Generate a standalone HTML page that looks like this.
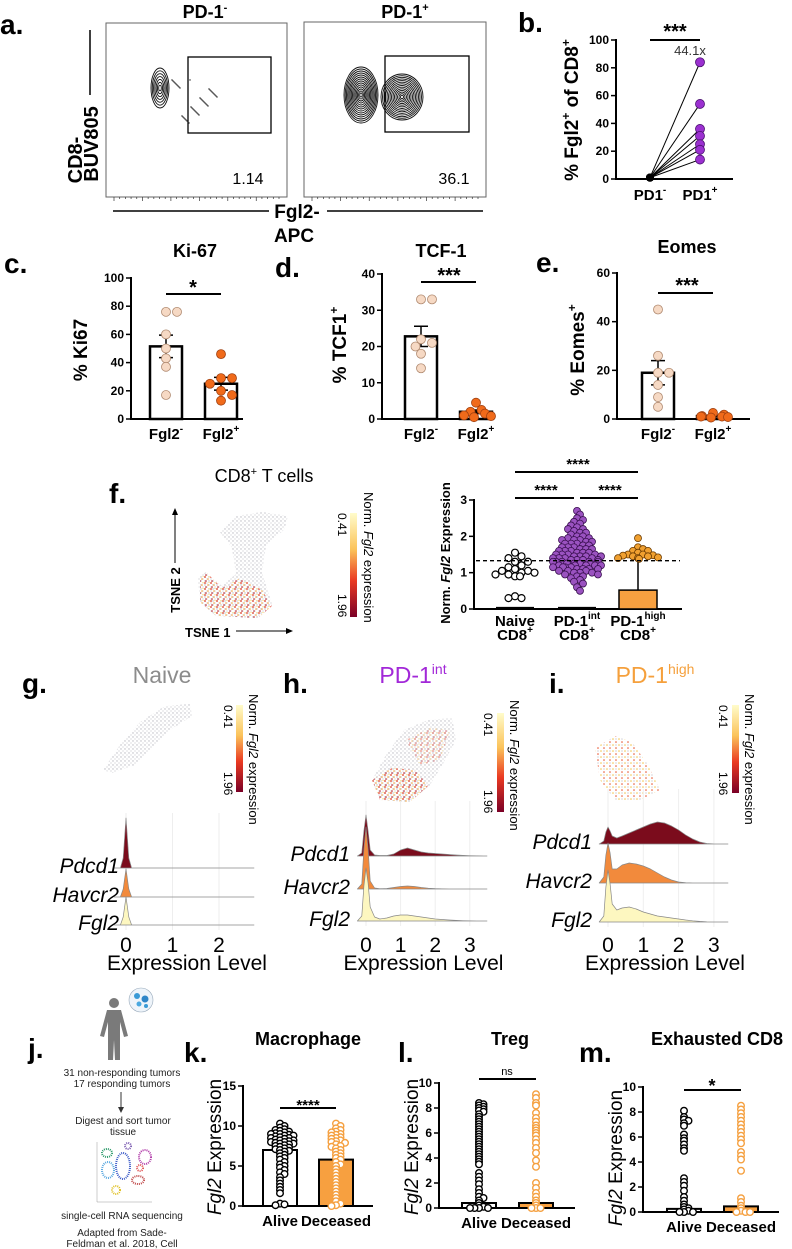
<!DOCTYPE html>
<html><head><meta charset="utf-8"><style>
html,body{margin:0;padding:0;background:#fff;}
svg{display:block;font-family:"Liberation Sans",Arial,sans-serif;}
.pl{font-size:28px;font-weight:bold;}
.tk{font-size:12px;font-weight:bold;text-anchor:end;}
.xl{font-size:15px;font-weight:bold;text-anchor:middle;}
.ti{font-size:18px;font-weight:bold;text-anchor:middle;}
.yt{font-size:19px;font-weight:bold;text-anchor:middle;}
.ax{stroke:#000;stroke-width:2;fill:none;}
.rl{font-size:21px;font-style:italic;text-anchor:end;}
.el{font-size:21px;text-anchor:middle;}
.sm{font-size:10px;text-anchor:middle;fill:#222;}
</style></head><body>
<svg id="fig" width="792" height="1249" viewBox="0 0 792 1249" xmlns="http://www.w3.org/2000/svg">
<defs>
<linearGradient id="cbar" x1="0" y1="0" x2="0" y2="1">
<stop offset="0" stop-color="#fffccb"/><stop offset="0.35" stop-color="#fbc35a"/><stop offset="0.65" stop-color="#ea3a22"/><stop offset="1" stop-color="#7a0026"/>
</linearGradient>
<pattern id="gdots" width="4" height="4" patternUnits="userSpaceOnUse"><circle cx="1" cy="1" r="0.7" fill="#b8b8c0"/><circle cx="3" cy="3" r="0.6" fill="#c8c8cc"/></pattern>
<pattern id="rdots" width="6" height="6" patternUnits="userSpaceOnUse"><circle cx="1" cy="1" r="0.9" fill="#e03a22"/><circle cx="4" cy="3" r="0.8" fill="#f5a13a"/><circle cx="2" cy="5" r="0.8" fill="#b4141e"/><circle cx="5" cy="0.5" r="0.6" fill="#f6d66a"/></pattern>
<pattern id="ydots" width="6" height="6" patternUnits="userSpaceOnUse"><circle cx="1" cy="1" r="0.8" fill="#f3c44a"/><circle cx="4" cy="4" r="0.8" fill="#e8502a"/><circle cx="4" cy="1" r="0.6" fill="#b8b8c0"/></pattern>
</defs>

<g>
<text class="pl" x="0" y="34">a.</text>
<text x="205" y="18" font-size="18" font-weight="bold" text-anchor="middle">PD-1<tspan font-size="11" dy="-7">-</tspan></text>
<text x="405" y="18" font-size="18" font-weight="bold" text-anchor="middle">PD-1<tspan font-size="11" dy="-7">+</tspan></text>
<rect x="106" y="23" width="181" height="174" fill="none" stroke="#666" stroke-width="1"/>
<rect x="304" y="22" width="182" height="175" fill="none" stroke="#666" stroke-width="1"/>
<rect x="188" y="57" width="83" height="76" fill="none" stroke="#000" stroke-width="1.3"/>
<rect x="385" y="56" width="84" height="76" fill="none" stroke="#000" stroke-width="1.3"/>
<text x="248" y="184" font-size="16" text-anchor="middle">1.14</text>
<text x="454" y="184" font-size="16" text-anchor="middle">36.1</text>
<g id="contours"></g>
<line x1="90" y1="30" x2="90" y2="95" stroke="#000" stroke-width="1.5"/>
<text transform="translate(82,160) rotate(-90)" font-size="20" font-weight="bold" text-anchor="middle">CD8-</text>
<text transform="translate(98,144) rotate(-90)" font-size="20" font-weight="bold" text-anchor="middle">BUV805</text>
<line x1="113" y1="211" x2="269" y2="211" stroke="#000" stroke-width="1.5"/>
<line x1="327" y1="211" x2="483" y2="211" stroke="#000" stroke-width="1.5"/>
<text x="297" y="218" font-size="19" font-weight="bold" text-anchor="middle">Fgl2-</text>
<text x="294" y="242" font-size="19" font-weight="bold" text-anchor="middle">APC</text>
</g>

<g>
<text class="pl" x="518" y="32">b.</text>
<g id="chartB"></g>
<text transform="translate(578,110) rotate(-90)" class="yt" font-size="20">% Fgl2<tspan font-size="12" dy="-8">+</tspan><tspan dy="8"> of CD8</tspan><tspan font-size="12" dy="-8">+</tspan></text>
<text x="675" y="38" font-size="20" font-weight="bold" text-anchor="middle">***</text>
<text x="690" y="55" font-size="13" fill="#333" text-anchor="middle">44.1x</text>
</g>

<text class="pl" x="4" y="273">c.</text>
<text class="ti" x="195" y="257">Ki-67</text>
<g id="chartC"></g>
<text transform="translate(87,350) rotate(-90)" class="yt">% Ki67</text>
<text x="193" y="294" font-size="20" font-weight="bold" text-anchor="middle">*</text>

<text class="pl" x="275" y="277">d.</text>
<text class="ti" x="441" y="257">TCF-1</text>
<g id="chartD"></g>
<text transform="translate(346,345) rotate(-90)" class="yt">% TCF1<tspan font-size="12" dy="-8">+</tspan></text>
<text x="449" y="282" font-size="20" font-weight="bold" text-anchor="middle">***</text>

<text class="pl" x="536" y="272">e.</text>
<text class="ti" x="687" y="253">Eomes</text>
<g id="chartE"></g>
<text transform="translate(584,350) rotate(-90)" class="yt">% Eomes<tspan font-size="12" dy="-8">+</tspan></text>
<text x="687" y="292" font-size="20" font-weight="bold" text-anchor="middle">***</text>

<text class="pl" x="109" y="503">f.</text>
<text x="264" y="482" font-size="18" text-anchor="middle">CD8<tspan font-size="11" dy="-7">+</tspan><tspan dy="7"> T cells</tspan></text>
<g>
<path d="M220,532 L236,516 L262,512 L288,516 L284,530 L266,545 L262,572 L272,604 L258,618 L216,616 L200,602 L198,578 L206,572 L222,586 L236,574 L232,548 Z" fill="url(#gdots)"/>
<path d="M200,580 L206,572 L222,588 L240,578 L262,590 L272,606 L258,618 L216,616 L200,602 Z" fill="url(#rdots)"/>
</g>
<line x1="175" y1="563" x2="175" y2="512" stroke="#000" stroke-width="1"/>
<path d="M172,515 L175,508 L178,515 Z" fill="#000"/>
<text transform="translate(180,590) rotate(-90)" font-size="13" font-weight="bold" text-anchor="middle">TSNE 2</text>
<text x="185" y="637" font-size="13" font-weight="bold">TSNE 1</text>
<line x1="236" y1="631" x2="288" y2="631" stroke="#000" stroke-width="1"/>
<path d="M286,628 L293,631 L286,634 Z" fill="#000"/>
<rect x="350" y="513" width="7" height="104" fill="url(#cbar)"/>
<text transform="translate(338,513) rotate(90)" font-size="12">0.41</text>
<text transform="translate(338,594) rotate(90)" font-size="12">1.96</text>
<text transform="translate(364,492) rotate(90)" font-size="13">Norm. <tspan font-style="italic">Fgl2</tspan> expression</text>
<g id="chartF"></g>
<text transform="translate(450,553) rotate(-90)" font-size="13" font-weight="bold" text-anchor="middle">Norm. <tspan font-style="italic">Fgl2</tspan> Expression</text>

<text class="pl" x="22" y="693">g.</text>
<text x="162" y="683" font-size="23" fill="#8c8c8c" text-anchor="middle">Naive</text>
<text class="pl" x="283" y="693">h.</text>
<text x="413" y="683" font-size="23" fill="#a228d8" text-anchor="middle">PD-1<tspan font-size="14" dy="-9">int</tspan></text>
<text class="pl" x="549" y="693">i.</text>
<text x="655" y="683" font-size="23" fill="#f5a03c" text-anchor="middle">PD-1<tspan font-size="14" dy="-9">high</tspan></text>

<path d="M103,770 L120,745 L140,722 L165,706 L190,704 L192,716 L170,730 L150,750 L135,765 L112,773 Z" fill="url(#gdots)"/>
<path d="M372,780 L386,755 L404,730 L428,720 L452,718 L456,740 L444,762 L430,785 L410,802 L380,800 Z" fill="url(#gdots)"/>
<path d="M372,780 L392,768 L416,770 L428,786 L410,802 L380,800 Z" fill="url(#rdots)"/>
<path d="M406,740 L430,728 L450,730 L440,760 L420,765 Z" fill="url(#rdots)" opacity="0.6"/>
<path d="M595,748 L615,736 L632,742 L648,765 L660,790 L640,800 L615,800 L600,780 Z" fill="url(#ydots)"/>

<rect x="236" y="705" width="7" height="87" fill="url(#cbar)"/>
<text transform="translate(224,705) rotate(90)" font-size="12">0.41</text>
<text transform="translate(224,772) rotate(90)" font-size="12">1.96</text>
<text transform="translate(249,694) rotate(90)" font-size="13">Norm. <tspan font-style="italic">Fgl2</tspan> expression</text>
<rect x="497" y="713" width="7" height="99" fill="url(#cbar)"/>
<text transform="translate(484,713) rotate(90)" font-size="12">0.41</text>
<text transform="translate(484,790) rotate(90)" font-size="12">1.96</text>
<text transform="translate(510,700) rotate(90)" font-size="13">Norm. <tspan font-style="italic">Fgl2</tspan> expression</text>
<rect x="732" y="705" width="7" height="88" fill="url(#cbar)"/>
<text transform="translate(719,705) rotate(90)" font-size="12">0.41</text>
<text transform="translate(719,772) rotate(90)" font-size="12">1.96</text>
<text transform="translate(745,694) rotate(90)" font-size="13">Norm. <tspan font-style="italic">Fgl2</tspan> expression</text>
<g id="ridges"></g>

<g>
<text class="pl" x="28" y="1058">j.</text>
<g fill="#7a7a7a">
<circle cx="114" cy="1003" r="5"/>
<path d="M107,1010 L121,1010 L128,1036 L124,1037 L120,1022 L120,1060 L115,1060 L114,1040 L113,1060 L108,1060 L108,1022 L104,1037 L100,1036 Z"/>
</g>
<circle cx="141" cy="1000" r="12" fill="#eef4fa" stroke="#9ab" stroke-width="0.6"/>
<circle cx="137" cy="996" r="3" fill="#3a9ad6"/><circle cx="145" cy="999" r="3.5" fill="#2f86c8"/><circle cx="139" cy="1004" r="2.5" fill="#4aa8e0"/><circle cx="146" cy="1006" r="2" fill="#3a9ad6"/>
<text class="sm" x="122" y="1076">31 non-responding tumors</text>
<text class="sm" x="122" y="1087">17 responding tumors</text>
<line x1="121" y1="1092" x2="121" y2="1108" stroke="#333"/>
<path d="M118,1107 L121,1113 L124,1107 Z" fill="#333"/>
<text class="sm" x="123" y="1124">Digest and sort tumor</text>
<text class="sm" x="123" y="1135">tissue</text>
<g>
<line x1="97" y1="1142" x2="97" y2="1202" stroke="#999" stroke-width="0.5"/><line x1="97" y1="1202" x2="152" y2="1202" stroke="#999" stroke-width="0.5"/>
<ellipse cx="107" cy="1153" rx="5" ry="4" fill="none" stroke="#2c9a6a" stroke-width="2" stroke-dasharray="1 1"/>
<ellipse cx="108" cy="1170" rx="6" ry="8" fill="none" stroke="#5aa8e0" stroke-width="2" stroke-dasharray="1 1"/>
<ellipse cx="123" cy="1166" rx="7" ry="13" fill="none" stroke="#3a5ac8" stroke-width="2" stroke-dasharray="1 1"/>
<ellipse cx="145" cy="1157" rx="6" ry="7" fill="none" stroke="#b03aa8" stroke-width="2" stroke-dasharray="1 1"/>
<ellipse cx="138" cy="1180" rx="6" ry="4" fill="none" stroke="#c04a4a" stroke-width="2" stroke-dasharray="1 1"/>
<ellipse cx="116" cy="1190" rx="4" ry="4" fill="none" stroke="#e0c020" stroke-width="2" stroke-dasharray="1 1"/>
<ellipse cx="128" cy="1146" rx="3" ry="3" fill="none" stroke="#7a5ab0" stroke-width="2" stroke-dasharray="1 1"/>
<ellipse cx="140" cy="1168" rx="3" ry="3" fill="none" stroke="#e05050" stroke-width="2" stroke-dasharray="1 1"/>
</g>
<text class="sm" x="122" y="1219">single-cell RNA sequencing</text>
<text class="sm" x="122" y="1236">Adapted from Sade-</text>
<text class="sm" x="122" y="1247">Feldman et al. 2018, Cell</text>
</g>

<text class="pl" x="184" y="1062">k.</text>
<text class="ti" x="308" y="1045" font-size="20">Macrophage</text>
<g id="chartK"></g>
<text transform="translate(221,1147) rotate(-90)" font-size="19" text-anchor="middle"><tspan font-style="italic">Fgl2</tspan> Expression</text>
<text x="308" y="1110" font-size="15" font-weight="bold" text-anchor="middle">****</text>

<text class="pl" x="398" y="1062">l.</text>
<text class="ti" x="510" y="1045" font-size="20">Treg</text>
<g id="chartL"></g>
<text transform="translate(418,1147) rotate(-90)" font-size="19" text-anchor="middle"><tspan font-style="italic">Fgl2</tspan> Expression</text>
<text x="507" y="1075" font-size="11" text-anchor="middle">ns</text>

<text class="pl" x="579" y="1062">m.</text>
<text class="ti" x="717" y="1045" font-size="20">Exhausted CD8</text>
<g id="chartM"></g>
<text transform="translate(622,1158) rotate(-90)" font-size="19" text-anchor="middle"><tspan font-style="italic">Fgl2</tspan> Expression</text>
<text x="712" y="1092" font-size="18" font-weight="bold" text-anchor="middle">*</text>
</svg>

<script>
const bCats = ["PD1-", "PD1+"];
const bPd1Neg = [1, 1, 1, 1, 1, 1, 1];
const bPd1Pos = [84, 54, 36, 31, 25, 21, 14];
const bTicks = [0, 20, 40, 60, 80, 100];

const cCats = ["Fgl2-", "Fgl2+"];
const cNeg = [76, 76, 60, 50, 43, 37, 17];
const cPos = [46, 29, 29, 25, 20, 17, 13];
const cMeans = [51.5, 25];
const cSems = [8, 4.5];
const cTicks = [0, 20, 40, 60, 80, 100];

const dNeg = [33, 33, 22, 21, 20, 18, 14];
const dPos = [4.5, 2.5, 2, 1.5, 1, 0.5, 0.8];
const dMeans = [22.8, 2];
const dSems = [2.8, 0.5];
const dTicks = [0, 10, 20, 30, 40];

const eNeg = [45, 26, 19, 19, 14, 9, 5];
const ePos = [2.5, 1.8, 1.2, 1, 0.8, 0.6, 1];
const eMeans = [19, 1.2];
const eSems = [5, 0.3];
const eTicks = [0, 20, 40, 60];

const fCats = ["Naive", "PD-1int", "PD-1high"];
const fNaive = [1.55, 1.45, 1.4, 1.3, 1.3, 1.2, 1.15, 1.1, 1.05, 1.05, 1.0, 1.0, 0.95, 0.95, 0.9, 0.9, 0.35, 0.3, 0.3];
const fInt = [2.7,2.6,2.5,2.45,2.4,2.35,2.3,2.25,2.2,2.2,2.15,2.1,2.1,2.05,2.0,2.0,1.95,1.95,1.9,1.9,1.9,1.85,1.85,1.8,1.8,1.8,1.75,1.75,1.7,1.7,1.7,1.65,1.65,1.65,1.6,1.6,1.6,1.55,1.55,1.55,1.5,1.5,1.5,1.5,1.45,1.45,1.45,1.45,1.4,1.4,1.4,1.4,1.35,1.35,1.35,1.35,1.3,1.3,1.3,1.3,1.3,1.25,1.25,1.25,1.25,1.25,1.2,1.2,1.2,1.2,1.2,1.15,1.15,1.15,1.15,1.1,1.1,1.1,1.1,1.05,1.05,1.05,1.0,1.0,1.0,0.95,0.95,0.9,0.9,0.85,0.8,0.75,0.7,0.6,0.5];
const fHigh = [1.95, 1.7, 1.65, 1.6, 1.6, 1.55, 1.5, 1.5, 1.48, 1.47, 1.45, 1.45, 1.42, 1.4, 1.4, 1.38];
const fBars = [0.03, 0.03, 0.52];
const fHighWhisker = 1.33;
const fThreshold = 1.33;
const fTicks = [0, 1, 2, 3];

const ridgeGrid = [-0.25,-0.12,-0.06,0,0.06,0.12,0.25,0.4,0.6,0.8,1.0,1.2,1.4,1.6,1.8,2.0,2.2,2.4,2.6,2.8,3.0,3.2,3.4];
const genes = ["Pdcd1", "Havcr2", "Fgl2"];
const gPdcd1 = [0,0,10,50,10,0,0,0,0,0,0,0,0,0,0,0,0,0,0,0,0,0,0];
const gHavcr2 = [0,0,8,28,8,0,0,0,0,0,0,0,0,0,0,0,0,0,0,0,0,0,0];
const gFgl2 = [0,0,8,28,8,0,0,0,0,0,0,0,0,0,0,0,0,0,0,0,0,0,0];
const hPdcd1 = [0,3,25,41,25,6,1,0.5,0.5,2,6,8,6,4,3,2.5,2,1.5,1,0.6,0.3,0.1,0];
const hHavcr2 = [0,5,40,62,40,8,1,0.3,0.5,1.5,2.5,3,2.5,1.5,0.8,0.4,0.2,0,0,0,0,0,0];
const hFgl2 = [0,5,35,53,38,14,4,2,3,5,6,6,5,4,3,2,1.5,1,0.6,0.3,0.1,0,0];
const iPdcd1 = [0,3,12,17,13,8,6,8,11,14,17,20,22,21,18,14,9,5,2,0.5,0,0,0];
const iHavcr2 = [0,6,28,40,30,14,14,18,20,19,17,14,10,6,3,1,0.3,0,0,0,0,0,0];
const iFgl2 = [0,6,35,52,38,18,12,14,15,13,10,8,6,5,4,3,2,1.2,0.6,0.2,0,0,0];
const gTicks = [0, 1, 2];
const hTicks = [0, 1, 2, 3];

const kCats = ["Alive", "Deceased"];
const kAlive = [10.3,10,9.8,9.6,9.5,9.4,9.3,9.2,9.1,9,9,8.9,8.8,8.8,8.7,8.6,8.5,8.5,8.4,8.3,8.2,8.2,8.1,8,8,7.9,7.8,7.8,7.7,7.6,7.5,7.4,7.3,7.2,7.1,7,6.9,6.8,6.6,6.4,6.2,6,5.8,5.5,5.2,5,4.8,4.5,4.2,4,3.6,3.2,2.8,2.4,2,1.6,0.3,0.2,0.1];
const kDeceased = [10.3,10,9.7,9.5,9.3,9.2,9,8.9,8.8,8.6,8.5,8.4,8.2,8.1,8,7.9,7.7,7.5,7.4,7.2,7,6.8,6.6,6.4,6.2,6,5.8,5.5,5.2,5,4.6,4.2,3.8,3.4,3,2.6,2.2,1.8,1.4,1,0.6,0.3,0.1,0];
const kBars = [7.0, 5.8];
const kTicks = [0, 5, 10, 15];

const lAlive = [8.4,8.3,8.2,8.1,8.0,7.9,7.8,7.7,7.5,7.3,7.1,6.9,6.7,6.5,6.3,6.1,5.9,5.7,5.5,5.3,5.1,4.9,4.7,4.5,4.3,4.1,3.9,3.7,3.5,2.8,2.5,2.2,1.9,1.5,1.2,0.9,0.8,0.6,0.4,0.2,0.1,0,0,0,0];
const lDeceased = [9.1,8.8,8.4,8.2,7.6,7.2,6.9,6.6,6.4,6.2,6,5.8,5.5,5.2,4.8,4.4,3.8,3.3,2.0,1.6,1.2,0.9,0.6,0.4,0.2,0,0,0];
const lBars = [0.4, 0.4];
const lTicks = [0, 2, 4, 6, 8, 10];

const mAlive = [8.1,7.6,7.4,7.3,7.1,6.9,6.2,5.9,5.7,5.4,5.1,4.9,2.7,2.4,2.1,1.7,1.2,0.9,0.6,0.4,0.3,0.2,0.1,0,0,0];
const mDeceased = [8.5,8.2,7.9,7.6,7.3,7.0,6.7,6.4,6.1,5.8,5.5,4.8,4.5,4.2,3.3,1.1,0.8,0.5,0.3,0.1,0,0,0];
const mBars = [0.25, 0.45];
const mTicks = [0, 2, 4, 6, 8, 10];

const NS = "http://www.w3.org/2000/svg";
function mk(parent, tag, attrs, txt) {
  const el = document.createElementNS(NS, tag);
  for (const k in attrs) el.setAttribute(k, attrs[k]);
  if (txt !== undefined) el.textContent = txt;
  parent.appendChild(el);
  return el;
}
function lin(d0, d1, r0, r1) { return v => r0 + (v - d0) / (d1 - d0) * (r1 - r0); }
function swarm(vals, ys, cx, minD, step, maxOff) {
  const placed = [];
  const sorted = vals.slice().sort((a, b) => b - a);
  sorted.forEach(v => {
    const y = ys(v);
    let k = 0, x = cx, found = false;
    const kMax = 2 * Math.floor(maxOff / step);
    for (k = 0; k <= kMax; k++) {
      const off = (k === 0 ? 0 : Math.ceil(k / 2) * step * (k % 2 ? 1 : -1));
      x = cx + off;
      if (!placed.some(p => Math.hypot(p[0] - x, p[1] - y) < minD)) { found = true; break; }
    }
    if (!found) x = cx + ((placed.length % 2) ? 1 : -1) * ((placed.length * 3) % maxOff);
    placed.push([x, y]);
  });
  return placed;
}
function axes(g, x0, yTop, yBot, xEnd, ticks, ys, tickFont, name) {
  const ya = mk(g, "line", {x1: x0, y1: yTop - 1, x2: x0, y2: yBot, class: "ax"});
  
  
  const xa = mk(g, "line", {x1: x0 - 1, y1: yBot, x2: xEnd, y2: yBot, class: "ax"});
  
  
  ticks.forEach(t => {
    const tl = mk(g, "line", {x1: x0 - 5, y1: ys(t), x2: x0, y2: ys(t), stroke: "#000", "stroke-width": 1.5});
    
    
    const tx = mk(g, "text", {x: x0 - 7, y: ys(t) + 4, class: "tk", "font-size": tickFont}, String(t));
    
    
  });
}
function xlab(g, x, y, main, sup, name, size) {
  const t = mk(g, "text", {x: x, y: y, class: "xl", "font-size": size || 15});
  
  
  t.appendChild(document.createTextNode(main));
  if (sup) { mk(t, "tspan", {"font-size": 10, dy: -7}, sup); }
}
function sigLine(g, x1, x2, y, name) {
  const l = mk(g, "line", {x1: x1, y1: y, x2: x2, y2: y, stroke: "#000", "stroke-width": 2});
  
  
}

(function () {
  const g = document.getElementById("chartB");
  const ys = lin(0, 100, 179, 40);
  const xs = [650, 700];
  axes(g, 616, 40, 179, 733, bTicks, ys, 12, "chart-b");
  bPd1Pos.forEach((v, i) => {
    const l = mk(g, "line", {x1: xs[0], y1: ys(bPd1Neg[i]), x2: xs[1], y2: ys(v), stroke: "#000", "stroke-width": 1});
    
    
  });
  bPd1Neg.forEach(v => {
    const c = mk(g, "circle", {cx: xs[0], cy: ys(v), r: 4, fill: "#000"});
    
    
  });
  bPd1Pos.forEach(v => {
    const c = mk(g, "circle", {cx: xs[1], cy: ys(v), r: 4.5, fill: "#9b30d0", stroke: "#4a1070", "stroke-width": 0.8});
    
    
  });
  sigLine(g, xs[0], xs[1], 40, "significance-line-b");
  xlab(g, xs[0], 200, "PD1", "-", "x-label-pd1-neg", 16);
  xlab(g, xs[1], 200, "PD1", "+", "x-label-pd1-pos", 16);
})();

function barChart(id, x0, yTop, yBot, xEnd, dMax, ticks, xs, negVals, posVals, means, sems, sigY, name) {
  const g = document.getElementById(id);
  const ys = lin(0, dMax, yBot, yTop);
  axes(g, x0, yTop, yBot, xEnd, ticks, ys, 12, name);
  [negVals, posVals].forEach((vals, gi) => {
    const b = mk(g, "rect", {x: xs[gi] - 16, y: ys(means[gi]), width: 32, height: yBot - ys(means[gi]), fill: "#fff", stroke: "#000", "stroke-width": 2.5});
    
    
    const e = mk(g, "path", {d: `M${xs[gi]},${ys(means[gi] - sems[gi])} V${ys(means[gi] + sems[gi])} M${xs[gi] - 7},${ys(means[gi] + sems[gi])} h14 M${xs[gi] - 7},${ys(means[gi] - sems[gi])} h14`, stroke: "#000", "stroke-width": 1.5, fill: "none"});
    
    
    const pts = swarm(vals, ys, xs[gi], 8, 5.5, 16);
    pts.forEach(p => {
      const c = mk(g, "circle", {cx: p[0], cy: p[1], r: 4.5, fill: gi ? "#f06a1a" : "#f6d9c4", stroke: gi ? "#a04010" : "#b08a70", "stroke-width": 0.8});
      
      
    });
    xlab(g, xs[gi], yBot + 20, "Fgl2", gi ? "+" : "-", name + '-x-label');
  });
  sigLine(g, xs[0], xs[1], sigY, name + "-significance-line");
}
barChart("chartC", 131, 278, 419, 243, 100, cTicks, [166, 221], cNeg, cPos, cMeans, cSems, 294, "chart-c");
barChart("chartD", 382, 274, 419, 494, 40, dTicks, [421, 476], dNeg, dPos, dMeans, dSems, 282, "chart-d");
barChart("chartE", 617, 273, 419, 750, 60, eTicks, [658, 713], eNeg, ePos, eMeans, eSems, 293, "chart-e");

(function () {
  const g = document.getElementById("chartF");
  const ys = lin(0, 3, 609, 500);
  const xs = [515, 577, 638];
  axes(g, 474, 500, 609, 682, fTicks, ys, 13, "chart-f");
  const hb = mk(g, "rect", {x: xs[2] - 19, y: ys(fBars[2]), width: 38, height: 609 - ys(fBars[2]), fill: "#f7a040", stroke: "#000", "stroke-width": 1.5});
  
  
  const wh = mk(g, "line", {x1: xs[2], y1: ys(fBars[2]), x2: xs[2], y2: ys(fHighWhisker), stroke: "#000", "stroke-width": 1.5});
  
  
  [0, 1].forEach(i => {
    const b = mk(g, "line", {x1: xs[i] - 19, y1: ys(fBars[i]), x2: xs[i] + 19, y2: ys(fBars[i]), stroke: "#000", "stroke-width": 2});
    
    
  });
  swarm(fNaive, ys, xs[0], 6.5, 6.5, 20).forEach(p => {
    const c = mk(g, "circle", {cx: p[0], cy: p[1], r: 3.5, fill: "#fff", stroke: "#000", "stroke-width": 1.2});
    
    
  });
  swarm(fInt, ys, xs[1], 4, 3, 26).forEach(p => {
    const c = mk(g, "circle", {cx: p[0], cy: p[1], r: 3.5, fill: "#9a52c0", stroke: "#3a1050", "stroke-width": 0.8});
    
    
  });
  swarm(fHigh, ys, xs[2], 5, 5, 22).forEach(p => {
    const c = mk(g, "circle", {cx: p[0], cy: p[1], r: 3.5, fill: "#f0a030", stroke: "#6a3a00", "stroke-width": 0.8});
    
    
  });
  const th = mk(g, "line", {x1: 476, y1: ys(fThreshold), x2: 680, y2: ys(fThreshold), stroke: "#000", "stroke-width": 1.3, "stroke-dasharray": "4 3"});
  
  
  sigLine(g, xs[0], xs[2], 472, "significance-line-naive-high");
  sigLine(g, xs[0], 574, 498, "significance-line-naive-int");
  sigLine(g, 580, xs[2], 498, "significance-line-int-high");
  [[578, 472], [546, 498], [610, 498]].forEach(s => {
    const t = mk(g, "text", {x: s[0], y: s[1] - 3, "font-size": 15, "font-weight": "bold", "text-anchor": "middle"}, "****");
    
    
  });
  const labs = [["Naive", ""], ["PD-1", "int"], ["PD-1", "high"]];
  labs.forEach((l, i) => {
    xlab(g, xs[i], 626, l[0], l[1], 'x-label-' + fCats[i], 13);
    xlab(g, xs[i], 640, "CD8", "+", 'x-label-cd8', 13);
  });
})();

function ridge(x0, pxPerUnit, xEndPx, baselines, densSet, ticks, labRight, tickY, name) {
  const g = document.getElementById("ridges");
  const xs = v => x0 + v * pxPerUnit;
  ticks.forEach(t => {
    const gl = mk(g, "line", {x1: xs(t), y1: baselines[0] - 55, x2: xs(t), y2: baselines[2] + 5, stroke: "#eee", "stroke-width": 1});
    
    
    const tl = mk(g, "text", {x: xs(t), y: tickY, class: "el", "font-size": 21}, String(t));
    
    
  });
  const fills = ["#7b0c1c", "#f28a3c", "#fdf7c0"];
  densSet.forEach((dens, gi) => {
    const b = baselines[gi];
    let d = `M${xs(ridgeGrid[0])},${b}`;
    ridgeGrid.forEach((gx, j) => { if (xs(gx) <= xEndPx) d += ` L${xs(gx).toFixed(1)},${(b - dens[j]).toFixed(1)}`; });
    d += ` L${xEndPx},${b} Z`;
    const p = mk(g, "path", {d: d, fill: fills[gi], stroke: "#888", "stroke-width": 0.7, "stroke-linejoin": "round"});
    
    
    const lab = mk(g, "text", {x: labRight, y: b + 5, class: "rl"}, genes[gi]);
    
    
  });
  const xt = mk(g, "text", {x: (x0 + xEndPx) / 2 - 3, y: 970, class: "el", "font-size": 20}, "Expression Level");
  
  
}
ridge(126, 46.5, 254, [868, 897, 925], [gPdcd1, gHavcr2, gFgl2], gTicks, 119, 952, "ridge-g");
ridge(366, 34.6, 487, [856, 889, 921], [hPdcd1, hHavcr2, hFgl2], hTicks, 350, 952, "ridge-h");
ridge(608, 35.3, 728, [844, 883, 922], [iPdcd1, iHavcr2, iFgl2], hTicks, 592, 952, "ridge-i");

function swarmBar(id, x0, yTop, yBot, xEnd, dMax, ticks, xs, a, d, bars, sigY, name, minD, maxOff) {
  const g = document.getElementById(id);
  const ys = lin(0, dMax, yBot, yTop);
  axes(g, x0, yTop, yBot, xEnd, ticks, ys, 11, name);
  const cols = [["#fff", "#000"], ["#f7a040", "#fff"]];
  [a, d].forEach((vals, gi) => {
    const b = mk(g, "rect", {x: xs[gi] - 17, y: ys(bars[gi]), width: 34, height: Math.max(yBot - ys(bars[gi]), 1), fill: cols[gi][0], stroke: "#000", "stroke-width": 2});
    
    
    swarm(vals, ys, xs[gi], minD, 4.5, maxOff).forEach(p => {
      const c = mk(g, "circle", {cx: p[0], cy: p[1], r: 3.3, fill: "#fff", stroke: gi ? "#f5a040" : "#000", "stroke-width": 1.4});
      
      
    });
    xlab(g, xs[gi], yBot + 20, kCats[gi], "", name + '-x-label', 16);
  });
  sigLine(g, xs[0], xs[1], sigY, name + '-significance-line');
}
swarmBar("chartK", 243, 1086, 1206, 373, 15, kTicks, [280, 336], kAlive, kDeceased, kBars, 1108, "chart-k", 3, 17);
swarmBar("chartL", 439, 1083, 1208, 575, 10, lTicks, [479, 536], lAlive, lDeceased, lBars, 1079, "chart-l", 2.4, 16);
swarmBar("chartM", 643, 1087, 1212, 779, 10, mTicks, [684, 741], mAlive, mDeceased, mBars, 1090, "chart-m", 2.4, 16);

(function () {
  const g = document.getElementById("contours");
  const blobs = [[160, 88, 9, 20, 7], [361, 95, 17, 28, 14], [402, 97, 21, 23, 14]];
  blobs.forEach(b => {
    for (let i = 1; i <= b[4]; i++) {
      const e = mk(g, "ellipse", {cx: b[0], cy: b[1], rx: b[2] * i / b[4], ry: b[3] * i / b[4], fill: "none", stroke: "#111", "stroke-width": 0.9});
      
      
    }
  });
  for (let i = 0; i < 45; i++) {
    const x = 172 + ((i * 37) % 46);
    const y = 80 + ((i * 53) % 44);
    const dot = mk(g, "circle", {cx: x, cy: y, r: 0.7, fill: "#222"});
    
    
  }
  [[106, 197, 287], [304, 197, 486]].forEach(bx => {
    for (let i = 0; i < 30; i++) {
      const x = bx[0] + 8 + i * (bx[2] - bx[0] - 16) / 29;
      const t = mk(g, "line", {x1: x, y1: bx[1], x2: x, y2: bx[1] + (i % 5 === 0 ? 4 : 2), stroke: "#333", "stroke-width": 0.7});
      
      
    }
  });
})();
</script>
</body></html>
